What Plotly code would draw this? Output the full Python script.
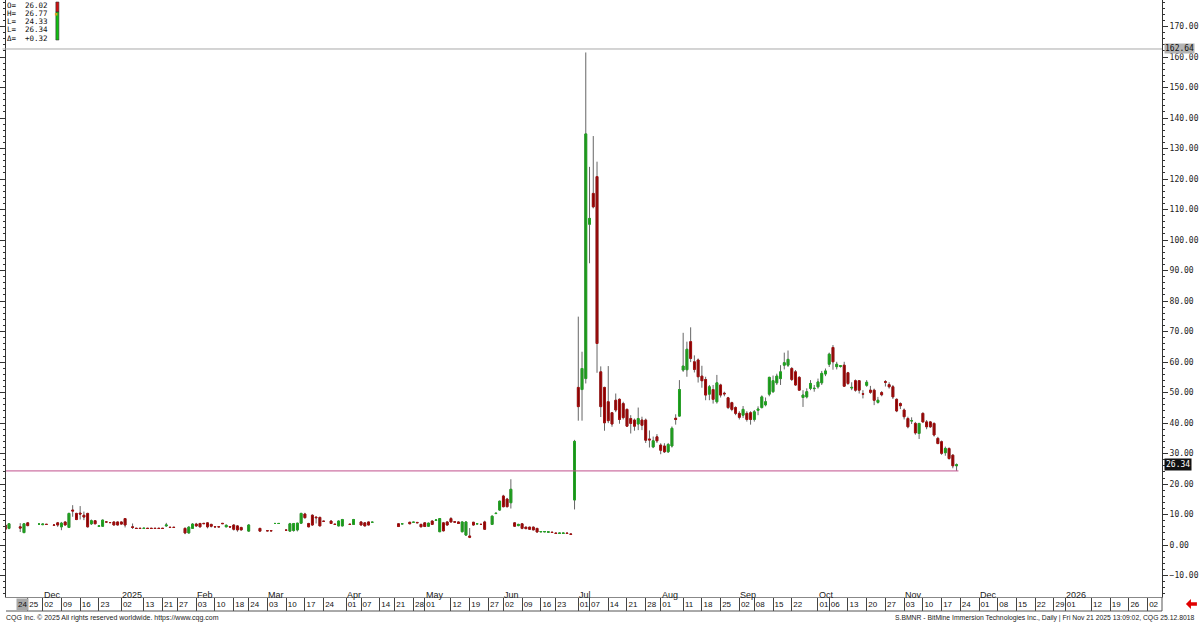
import plotly.graph_objects as go
import pandas as pd

# ---------------- data ----------------
HOLIDAYS = ["2024-11-28", "2024-12-25", "2025-01-01", "2025-01-09", "2025-01-20",
            "2025-02-17", "2025-04-18", "2025-05-26", "2025-06-19", "2025-07-04",
            "2025-09-01"]
FIRST_BAR = "2024-11-15"
LAST_BAR = "2025-11-21"
FUTURE_END = "2026-02-13"

# one entry per trading day from FIRST_BAR to LAST_BAR (None = no trade)
open_ = [
    6.6, 5.5, None, None, 6.0, 4.1, 7.3, None, None, 6.9,
    6.7, 6.8, None, 6.6, 7.3, 6.0, 7.6, 5.8, 11.5, 10.4,
    10.5, 9.8, 10.4, 7.0, 8.0, 6.2, 6.2, 7.6, 7.4, 7.6,
    7.6, 7.6, 8.7, None, 6.0, 5.55, 5.55, 5.45, 5.55, 5.55,
    5.55, 5.55, 5.55, 6.3, 5.85, 5.85, None, None, 5.5, 4.0,
    5.5, 6.9, 7.1, 7.15, 7.3, 6.8, 6.05, 6.05, 7.15, 6.0,
    6.05, 6.6, 6.3, 5.8, None, 4.6, None, None, 5.5, None,
    4.75, 4.75, 7.1, 7.1, None, 4.9, 4.6, 4.8, 5.0, 7.2,
    10.2, 7.1, 9.8, 9.2, 9.1, 7.85, None, 7.9, 6.85, 6.3,
    6.3, None, 6.85, 6.8, None, 7.6, 7.3, 7.6, 7.5, None,
    None, None, None, None, None, 7.0, 7.0, None, 7.5, 7.5,
    7.45, 6.8, 7.3, 6.2, 7.9, 8.15, 4.4, 7.3, 7.6, 8.7,
    7.65, 7.6, 4.4, 3.3, 3.0, 7.5, 7.0, 6.8, 7.6, None,
    6.8, 10.35, 11.5, 16.1, 15.1, 13.9, 7.3, 6.4, 7.0, 5.9,
    5.9, 5.9, 5.5, 4.35, 4.35, 4.25, 4.25, 3.95, 3.85, 3.85,
    3.95, 3.65, 14.8, 51.7, 51.0, 54.6, 105.2, 115.3, 120.8, 56.8,
    51.7, 47.0, 43.4, 47.5, 47.8, 46.4, 44.5, 41.5, 41.0, 39.7,
    41.0, 41.0, 34.8, 32.2, 35.5, 32.8, 32.5, 30.6, 32.5, 41.6,
    42.3, 57.4, 57.5, 66.7, 60.1, 60.7, 55.4, 54.3, 49.5, 51.0,
    47.0, 52.5, 49.8, 48.3, 46.7, 45.1, 43.2, 42.6, 43.2, 43.4,
    41.2, 44.2, 45.1, 46.0, 49.5, 50.3, 53.2, 54.6, 59.0, 59.0,
    57.9, 56.8, 55.0, 48.4, 48.6, 51.4, 51.3, 51.9, 53.2, 56.1,
    59.3, 64.8, 58.5, 58.6, 59.0, 56.5, 51.5, 53.9, 53.9, 49.6,
    52.4, 50.8, 50.8, 46.8, 50.0, 53.6, 52.6, 51.9, 47.8, 46.4,
    44.3, 41.5, 40.7, 39.9, 36.6, 43.2, 40.4, 40.4, 39.9, 35.0,
    33.9, 30.3, 31.7, 29.5, 26.02,
]
high_ = [
    6.9, 7.2, None, None, 7.2, 7.1, 7.5, None, None, 7.0,
    6.9, 6.9, None, 6.7, 7.6, 7.6, 7.7, 10.6, 13.1, 10.6,
    12.8, 11.0, 10.6, 8.4, 8.1, 6.4, 8.4, 7.7, 7.5, 7.7,
    7.7, 7.7, 8.9, None, 7.1, 5.6, 5.6, 5.6, 5.6, 5.6,
    5.6, 5.6, 5.6, 7.3, 5.9, 5.9, None, None, 5.8, 6.2,
    7.2, 7.3, 7.3, 7.2, 7.4, 7.0, 6.1, 6.1, 7.2, 6.8,
    6.1, 6.8, 6.6, 6.0, None, 6.9, None, None, 5.6, None,
    4.8, 4.8, 7.2, 7.2, None, 5.0, 7.3, 7.2, 7.3, 10.6,
    10.6, 7.3, 10.1, 9.3, 9.3, 7.9, None, 8.1, 6.9, 8.1,
    8.6, None, 6.9, 8.6, None, 7.8, 7.4, 7.7, 7.6, None,
    None, None, None, None, None, 7.1, 7.1, None, 7.6, 7.6,
    7.5, 7.0, 7.4, 7.4, 8.1, 8.3, 8.9, 7.6, 7.8, 9.2,
    7.7, 7.8, 7.8, 7.8, 5.6, 7.6, 7.1, 6.9, 8.0, None,
    9.7, 10.5, 14.6, 16.5, 15.5, 21.6, 7.5, 7.0, 7.1, 6.0,
    6.0, 6.1, 5.6, 4.5, 4.5, 4.4, 4.3, 4.0, 4.0, 4.0,
    4.0, 3.7, 34.5, 74.9, 63.4, 161.5, 124.0, 134.1, 125.7, 58.6,
    51.9, 58.7, 43.6, 49.7, 48.1, 47.0, 44.8, 42.6, 41.5, 45.1,
    42.1, 41.5, 37.6, 35.6, 36.4, 33.4, 33.4, 33.5, 38.9, 42.9,
    54.1, 69.6, 66.7, 71.4, 62.2, 61.2, 58.8, 55.2, 52.5, 52.5,
    55.8, 52.9, 50.3, 48.6, 47.0, 45.5, 43.9, 45.6, 43.9, 43.9,
    44.3, 45.5, 49.1, 48.4, 55.2, 55.6, 56.2, 59.0, 63.1, 63.8,
    58.4, 57.4, 55.4, 50.8, 51.4, 54.1, 52.5, 54.6, 57.1, 57.9,
    63.1, 65.6, 60.1, 59.0, 60.1, 56.8, 53.4, 54.3, 54.1, 50.8,
    54.1, 52.2, 51.3, 48.6, 50.5, 54.1, 53.4, 52.5, 48.1, 46.8,
    44.8, 42.1, 41.9, 40.4, 40.0, 43.5, 41.0, 40.7, 40.2, 35.5,
    34.3, 32.3, 32.0, 29.8, 26.77,
]
low_ = [
    5.0, 5.2, None, None, 4.3, 4.0, 6.2, None, None, 6.8,
    6.6, 6.7, None, 6.5, 6.0, 4.9, 6.5, 5.6, 9.3, 8.2,
    8.4, 8.2, 5.8, 6.6, 6.9, 6.1, 6.0, 7.5, 7.3, 6.5,
    6.5, 6.8, 5.8, None, 5.3, 5.4, 5.4, 5.4, 5.4, 5.4,
    5.4, 5.4, 5.4, 6.0, 5.7, 5.7, None, None, 3.6, 3.8,
    5.3, 6.0, 5.8, 7.0, 5.5, 5.8, 5.9, 5.9, 7.0, 5.9,
    5.9, 4.8, 4.4, 4.8, None, 4.4, None, None, 4.4, None,
    4.6, 4.6, 7.0, 7.0, None, 4.8, 4.4, 4.4, 4.5, 7.0,
    8.7, 5.9, 6.3, 7.1, 6.3, 7.7, None, 7.0, 6.7, 6.2,
    6.2, None, 6.7, 6.7, None, 6.5, 6.2, 6.5, 7.4, None,
    None, None, None, None, None, 6.0, 6.9, None, 6.9, 7.4,
    7.3, 6.0, 6.0, 6.0, 6.6, 8.1, 4.3, 4.5, 6.4, 7.4,
    7.5, 7.0, 4.2, 3.0, 2.3, 6.4, 6.9, 6.7, 5.0, None,
    6.6, 10.3, 11.3, 12.4, 12.4, 12.0, 6.0, 6.2, 5.2, 5.3,
    5.0, 4.9, 4.2, 4.3, 4.3, 4.2, 4.1, 3.8, 3.8, 3.8,
    3.8, 3.5, 11.7, 40.8, 40.8, 53.0, 92.4, 110.4, 56.5, 42.0,
    37.5, 40.0, 38.8, 43.6, 39.8, 41.2, 38.8, 36.6, 37.5, 37.7,
    37.7, 33.5, 32.0, 31.8, 33.5, 29.8, 30.2, 30.2, 32.0, 39.5,
    42.1, 56.8, 55.2, 60.0, 56.6, 53.3, 51.6, 47.5, 47.5, 46.4,
    46.4, 48.4, 48.8, 44.6, 43.9, 42.6, 41.2, 41.7, 40.5, 39.5,
    40.5, 42.6, 44.8, 45.5, 48.8, 49.9, 52.5, 52.5, 57.6, 58.4,
    53.8, 52.2, 50.8, 45.3, 48.1, 50.8, 50.3, 51.3, 52.5, 55.4,
    58.4, 57.5, 57.6, 58.2, 51.9, 52.5, 50.8, 50.3, 49.7, 48.1,
    51.9, 49.6, 45.9, 46.4, 48.8, 52.0, 51.3, 47.9, 43.6, 44.6,
    41.2, 38.3, 39.7, 36.2, 34.8, 40.1, 38.0, 38.4, 35.6, 33.1,
    29.6, 29.3, 28.0, 25.2, 24.33,
]
close_ = [
    5.2, 7.0, None, None, 5.6, 7.0, 6.4, None, None, 6.9,
    6.9, 6.8, None, 6.55, 6.6, 7.2, 6.6, 10.4, 11.2, 8.4,
    10.2, 9.2, 6.0, 8.0, 7.0, 6.3, 8.2, 7.6, 7.4, 6.6,
    6.6, 6.9, 6.6, None, 5.8, 5.45, 5.45, 5.55, 5.45, 5.45,
    5.45, 5.45, 5.45, 6.6, 5.8, 5.8, None, None, 4.0, 5.9,
    6.9, 6.3, 6.0, 7.05, 6.0, 6.2, 6.0, 6.0, 7.05, 6.5,
    5.95, 5.2, 5.0, 5.0, None, 6.6, None, None, 4.6, None,
    4.7, 4.7, 7.1, 7.1, None, 4.9, 7.0, 7.1, 7.2, 10.4,
    9.0, 6.0, 6.6, 9.0, 6.3, 7.8, None, 7.1, 6.8, 7.9,
    8.4, None, 6.8, 8.4, None, 6.6, 6.3, 6.6, 7.5, None,
    None, None, None, None, None, 6.1, 7.0, None, 7.0, 7.5,
    7.35, 6.0, 6.1, 7.2, 6.8, 8.25, 8.7, 4.7, 6.6, 7.6,
    7.55, 7.1, 7.6, 7.6, 2.6, 6.6, 7.0, 6.8, 5.2, None,
    9.5, 10.45, 14.4, 12.6, 12.6, 18.3, 6.2, 6.8, 5.5, 5.4,
    5.2, 5.0, 4.3, 4.45, 4.45, 4.35, 4.15, 3.85, 3.95, 3.95,
    3.85, 3.55, 34.0, 45.4, 57.9, 134.8, 107.1, 110.9, 66.1, 45.4,
    40.1, 40.8, 39.7, 44.3, 41.2, 41.8, 39.0, 39.9, 39.0, 41.5,
    39.3, 34.4, 34.5, 34.2, 34.2, 31.1, 30.6, 33.0, 38.3, 41.2,
    51.0, 58.7, 64.2, 61.2, 57.6, 55.2, 53.9, 49.2, 51.9, 47.8,
    53.2, 49.2, 49.6, 45.1, 44.5, 43.2, 41.9, 44.5, 41.2, 41.2,
    43.7, 44.6, 48.6, 47.0, 55.0, 53.9, 55.4, 56.8, 59.8, 60.9,
    54.3, 52.5, 50.8, 49.2, 50.3, 53.0, 51.4, 53.5, 56.3, 57.1,
    62.6, 60.1, 59.3, 58.8, 52.1, 53.0, 51.7, 50.8, 50.8, 49.5,
    53.4, 50.1, 47.5, 47.5, 49.3, 53.4, 51.9, 48.6, 44.0, 45.7,
    42.1, 38.8, 40.8, 36.8, 39.9, 40.4, 38.8, 38.8, 36.1, 33.3,
    30.1, 31.7, 28.4, 26.0, 26.34,
]

HIGH_MARK = 162.64          # session-range high line
LOW_MARK = 24.33            # last bar low line
LAST_PRICE = 26.34

Y_TICKS = [-10, 0, 10, 20, 30, 40, 50, 60, 70, 80, 90, 100, 110, 120, 130, 140, 150, 160, 170]

tick_dates = ["2024-11-25", "2024-12-02", "2024-12-09", "2024-12-16", "2024-12-23",
              "2025-01-02", "2025-01-13", "2025-01-21", "2025-01-27", "2025-02-03",
              "2025-02-10", "2025-02-18", "2025-02-24", "2025-03-03", "2025-03-10",
              "2025-03-17", "2025-03-24", "2025-04-01", "2025-04-07", "2025-04-14",
              "2025-04-21", "2025-04-28", "2025-05-01", "2025-05-12", "2025-05-19",
              "2025-05-27", "2025-06-02", "2025-06-09", "2025-06-16", "2025-06-23",
              "2025-07-01", "2025-07-07", "2025-07-14", "2025-07-21", "2025-07-28",
              "2025-08-01", "2025-08-11", "2025-08-18", "2025-08-25", "2025-09-02",
              "2025-09-08", "2025-09-15", "2025-09-22", "2025-10-01", "2025-10-06",
              "2025-10-13", "2025-10-20", "2025-10-27", "2025-11-03", "2025-11-10",
              "2025-11-17", "2025-11-24", "2025-12-01", "2025-12-08", "2025-12-15",
              "2025-12-22", "2025-12-29", "2026-01-01", "2026-01-12", "2026-01-19",
              "2026-01-26", "2026-02-02"]
tick_labels = [d[-2:] for d in tick_dates]

month_dates = ["2024-12-02", "2025-01-02", "2025-02-03", "2025-03-03", "2025-04-01",
               "2025-05-01", "2025-06-02", "2025-07-01", "2025-08-01", "2025-09-02",
               "2025-10-01", "2025-11-03", "2025-12-01", "2026-01-01"]
month_labels = ["Dec", "2025", "Feb", "Mar", "Apr", "May", "Jun", "Jul", "Aug", "Sep",
                "Oct", "Nov", "Dec", "2026"]

legend_keys = ["O=", "H=", "L=", "L=", "Δ="]
legend_vals = ["26.02", "26.77", "24.33", "26.34", "+0.32"]

# ---------------- calendar ----------------
past = pd.bdate_range(FIRST_BAR, LAST_BAR)
past = past[~past.isin(pd.to_datetime(HOLIDAYS))]
future = pd.bdate_range(pd.Timestamp(LAST_BAR) + pd.Timedelta(days=1), FUTURE_END)
calendar = [d.strftime("%Y-%m-%d") for d in list(past) + list(future)]
pos = {d: k for k, d in enumerate(calendar)}

n = min(len(open_), len(past))
xs, o, h, l, c = [], [], [], [], []
for k in range(n):
    if open_[k] is None:
        continue
    xs.append(k)
    o.append(open_[k]); h.append(high_[k]); l.append(low_[k]); c.append(close_[k])
body_hi = [max(a, b) for a, b in zip(o, c)]
body_lo = [min(a, b) for a, b in zip(o, c)]

# ---------------- geometry helpers ----------------
W, H = 1200, 623
ML, MR, MT, MB = 3, 38, 0, 26
PW, PH = W - ML - MR, H - MT - MB


def px(xp):
    return (xp - ML) / PW


def py(yp):
    return 1 - (yp - MT) / PH


WICK = "#666666"
UP_FILL, UP_LINE = "#1c8c1c", "#22a822"
DN_FILL, DN_LINE = "#7c0000", "#a81010"

fig = go.Figure()
fig.add_trace(go.Candlestick(
    x=xs, open=o, high=h, low=l, close=c,
    increasing=dict(line=dict(color=WICK, width=1), fillcolor=WICK),
    decreasing=dict(line=dict(color=WICK, width=1), fillcolor=WICK),
    whiskerwidth=0, hoverinfo="skip", showlegend=False))
fig.add_trace(go.Candlestick(
    x=xs, open=o, high=body_hi, low=body_lo, close=c,
    increasing=dict(line=dict(color=UP_LINE, width=1), fillcolor=UP_FILL),
    decreasing=dict(line=dict(color=DN_LINE, width=1), fillcolor=DN_FILL),
    whiskerwidth=0, showlegend=False))

x_left = pos["2024-11-25"] - 5.8
x_right = pos["2024-11-25"] + 302.85

shapes = [
    dict(type="line", xref="paper", yref="y", x0=-0.003, x1=1, y0=HIGH_MARK, y1=HIGH_MARK,
         line=dict(color="#a9a9a9", width=1)),
    dict(type="line", xref="paper", yref="y", x0=0, x1=(xs[-1] + 0.5 - x_left) / (x_right - x_left),
         y0=LOW_MARK, y1=LOW_MARK, line=dict(color="#c0508c", width=1)),
    # bottom border of date strip
    dict(type="line", xref="paper", yref="paper", x0=0, x1=1, y0=py(611), y1=py(611),
         line=dict(color="#555555", width=1)),
    dict(type="line", xref="paper", yref="paper", x0=1, x1=1, y0=py(597), y1=py(611),
         line=dict(color="#555555", width=1)),
    # OHLC colour bar in the legend box
    dict(type="rect", xref="paper", yref="paper", x0=px(53), x1=px(56), y0=py(2), y1=py(12),
         fillcolor="#d01010", line=dict(color="#333333", width=0.6)),
    dict(type="rect", xref="paper", yref="paper", x0=px(53), x1=px(56), y0=py(12), y1=py(40),
         fillcolor="#10c010", line=dict(color="#333333", width=0.6)),
    dict(type="rect", xref="paper", yref="paper", x0=px(52), x1=px(54.5), y0=py(13), y1=py(15.5),
         fillcolor="#e0a020", line=dict(width=0)),
    # red arrow bottom right
    dict(type="path", xref="paper", yref="paper",
         path="M {a},{m} L {b},{t} L {b},{t2} L {e},{t2} L {e},{b2} L {b},{b2} L {b},{bt} Z".format(
             a=px(1186), b=px(1191), e=px(1197), m=py(604), t=py(599), t2=py(602.3),
             b2=py(605.7), bt=py(609)),
         fillcolor="#e00000", line=dict(width=0)),
]

ann = []
for k, (key, val) in enumerate(zip(legend_keys, legend_vals)):
    ann.append(dict(xref="paper", yref="paper", x=px(1.5), y=py(5 + 8.3 * k), xanchor="left",
                    yanchor="middle", showarrow=False, text=f"{key}  {val}",
                    font=dict(family="DejaVu Sans Mono", size=7.5, color="#111111")))
for d, t in zip(month_dates, month_labels):
    if d in pos:
        ann.append(dict(xref="x", yref="paper", x=pos[d], y=py(594.5), xanchor="left",
                        yanchor="middle", xshift=-1, showarrow=False, text=t,
                        font=dict(family="Liberation Sans", size=9, color="#222222")))
ann += [
    dict(xref="paper", yref="y", x=1, y=HIGH_MARK, xanchor="left", yanchor="middle", xshift=2,
         showarrow=False, text="162.64", bgcolor="#b4b4b4", borderpad=0,
         font=dict(family="DejaVu Sans Mono", size=8, color="#111111")),
    dict(xref="paper", yref="y", x=1, y=LAST_PRICE, xanchor="left", yanchor="middle", xshift=2,
         showarrow=False, text="26.34", bgcolor="#111111", borderpad=1,
         font=dict(family="DejaVu Sans Mono", size=8, color="#ffffff")),
    dict(xref="paper", yref="paper", x=px(13), y=py(604.5), xanchor="left", yanchor="middle",
         showarrow=False, text="24", bgcolor="#a8a8a8", borderpad=1,
         font=dict(family="Liberation Sans", size=8, color="#111111")),
    dict(xref="paper", yref="paper", x=px(1), y=py(617.5), xanchor="left", yanchor="middle",
         showarrow=False, text="CQG Inc. © 2025 All rights reserved worldwide. https://www.cqg.com",
         font=dict(family="Liberation Sans", size=7, color="#222222")),
    dict(xref="paper", yref="paper", x=px(1197), y=py(617.5), xanchor="right", yanchor="middle",
         showarrow=False,
         text="S.BMNR - BitMine Immersion Technologies Inc., Daily | Fri Nov 21 2025 13:09:02, CQG 25.12.8018",
         font=dict(family="Liberation Sans", size=6.8, color="#222222")),
]

fig.update_layout(
    width=W, height=H, margin=dict(l=ML, r=MR, t=MT, b=MB),
    paper_bgcolor="white", plot_bgcolor="white", showlegend=False,
    boxgap=0.3, shapes=shapes, annotations=ann, hovermode=False,
    xaxis=dict(range=[x_left, x_right], rangeslider=dict(visible=False),
               tickmode="array", tickvals=[pos[d] for d in tick_dates if d in pos],
               ticktext=[t for d, t in zip(tick_dates, tick_labels) if d in pos],
               ticks="outside", ticklen=13, tickwidth=1, tickcolor="#444444", tickangle=0,
               ticklabelshift=6, ticklabelstandoff=-14,
               tickfont=dict(family="Liberation Sans", size=8, color="#111111"),
               showline=True, linecolor="#888888", linewidth=1,
               showgrid=False, zeroline=False),
    yaxis=dict(side="right", range=[-17.0, 178.7], tickmode="array", tickvals=Y_TICKS,
               tickformat=".2f", ticks="outside", ticklen=5, tickcolor="#333333",
               showline=True, linecolor="#333333", linewidth=1, mirror="allticks",
               minor=dict(dtick=2, ticks="outside", ticklen=2, tickcolor="#333333"),
               tickfont=dict(family="DejaVu Sans Mono", size=8, color="#222222"),
               showgrid=False, zeroline=False),
)

fig.write_html("out.html", config={"displayModeBar": False, "staticPlot": True},
               post_script="document.body.style.margin='0px';document.body.style.overflow='hidden';")
